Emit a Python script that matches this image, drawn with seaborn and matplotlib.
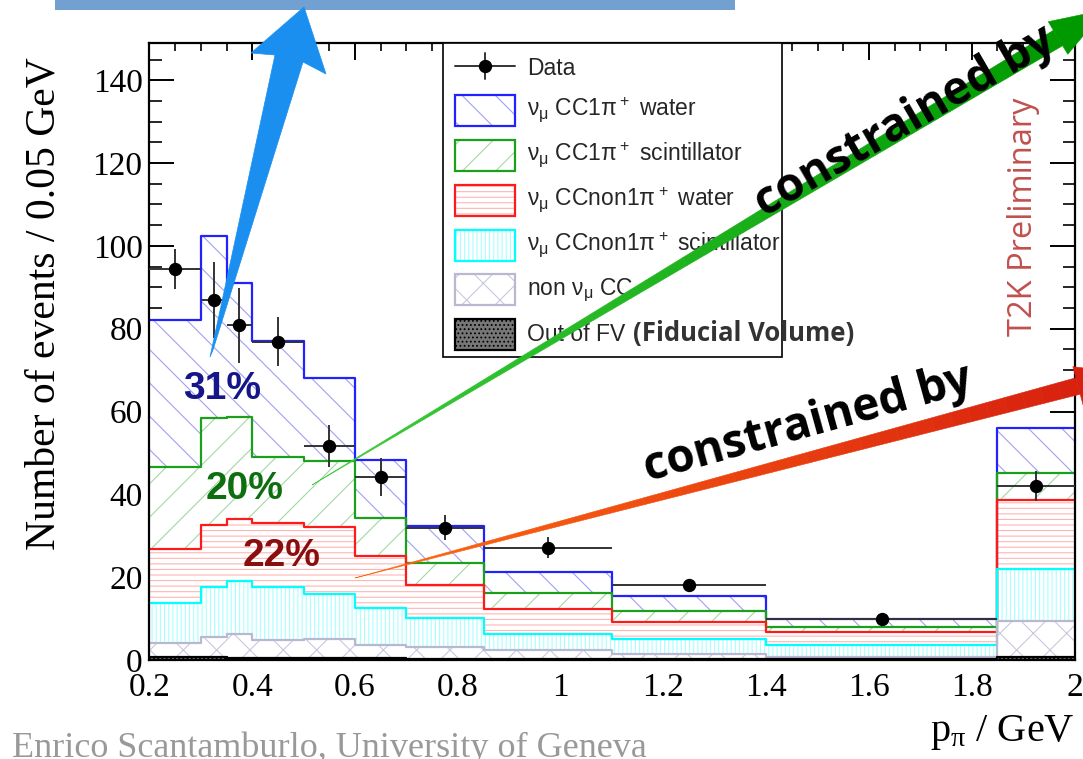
import numpy as np
import pandas as pd
import matplotlib
matplotlib.use("Agg")
import matplotlib.pyplot as plt
import matplotlib.colors as mcolors
from matplotlib.patches import Polygon, Rectangle
from matplotlib.lines import Line2D
from matplotlib.ticker import MultipleLocator, FuncFormatter
import seaborn as sns

W, H = 1083, 759

# binning (GeV) and values per bin, events / 0.05 GeV
bin_edges = [0.2, 0.3, 0.35, 0.4, 0.5, 0.6, 0.7, 0.85, 1.1, 1.4, 1.85, 2.0]
data_values = [94.5, 87.0, 80.8, 76.9, 51.7, 44.2, 31.9, 27.1, 18.1, 9.9, 42.1]
data_errors = [4.8, 9.2, 9.0, 6.0, 5.0, 4.7, 3.0, 2.5, 1.4, 1.2, 3.6]

out_of_fv = [0.8, 0.8, 0.6, 0.5, 0.4, 0.4, 0.3, 0.3, 0.2, 0.2, 0.8]
non_numu_cc = [3.3, 4.8, 5.7, 4.3, 4.7, 3.2, 2.8, 2.1, 1.3, 0.6, 8.6]
ccnon1pi_scint = [9.7, 12.1, 12.8, 12.9, 10.9, 9.0, 7.1, 3.9, 3.6, 2.8, 12.6]
ccnon1pi_water = [13.0, 14.9, 14.9, 15.3, 16.0, 12.4, 8.0, 6.0, 4.1, 3.2, 16.7]
cc1pi_scint = [19.9, 25.9, 24.8, 16.0, 16.0, 9.3, 5.3, 3.9, 2.6, 1.2, 6.5]
cc1pi_water = [35.5, 44.0, 32.2, 28.0, 20.0, 14.1, 8.9, 5.1, 3.7, 1.9, 10.8]

legend_labels = [
    r"$\mathregular{ν_μ}$ CC1$\mathregular{π^+}$ water",
    r"$\mathregular{ν_μ}$ CC1$\mathregular{π^+}$ scintillator",
    r"$\mathregular{ν_μ}$ CCnon1$\mathregular{π^+}$ water",
    r"$\mathregular{ν_μ}$ CCnon1$\mathregular{π^+}$ scintillator",
    r"non $\mathregular{ν_μ}$ CC",
    "Out of FV",
]
share_labels = ["31%", "20%", "22%"]

sns.set_theme(style="white")
plt.rcParams["font.family"] = ["Liberation Serif", "DejaVu Serif"]
plt.rcParams["hatch.linewidth"] = 0.8

edges = np.array(bin_edges)
centers = 0.5 * (edges[:-1] + edges[1:])
half_w = 0.5 * np.diff(edges)

# stack order bottom -> top
components = [out_of_fv, non_numu_cc, ccnon1pi_scint, ccnon1pi_water, cc1pi_scint, cc1pi_water]
tops = np.cumsum(np.array(components), axis=0)
# (outline colour, hatch colour, hatch, face)
styles = [
    ("black", "black", "....", "#777777"),
    ("#b8b8d0", "#c8c8e0", "x", "white"),
    ("#00ffff", "#a8ffff", "||||", "white"),
    ("#ff1a1a", "#ffb4b4", "---", "white"),
    ("#1aa01a", "#a4d8a4", "/", "white"),
    ("#2222ff", "#a0a0f4", "\\", "white"),
]

fig = plt.figure(figsize=(W / 100, H / 100), dpi=100)
ax = fig.add_axes([149.5 / W, 1 - 660 / H, 925 / W, 617 / H])


def F(x, y):
    return (x / W, 1 - y / H)


# draw from the top of the stack downwards so each opaque fill hides the one above
for i in range(len(components) - 1, -1, -1):
    line_c, hatch_c, hatch, face = styles[i]
    layer = pd.DataFrame({"p": centers, "n": tops[i]})
    sns.histplot(data=layer, x="p", weights="n", bins=bin_edges, element="step", fill=True,
                 facecolor=face, edgecolor=hatch_c, hatch=hatch, linewidth=0,
                 alpha=1, ax=ax)
    sns.histplot(data=layer, x="p", weights="n", bins=bin_edges, element="step", fill=False,
                 color=line_c, linewidth=1.6, ax=ax)

ax.errorbar(centers, data_values, xerr=half_w, yerr=data_errors, fmt="o",
            color="black", ecolor="#333333", elinewidth=1.4, capsize=0,
            markersize=8.6, zorder=6)

ax.set_xlim(0.2, 2.0)
ax.set_ylim(0, 149)
ax.xaxis.set_major_locator(MultipleLocator(0.2))
ax.xaxis.set_minor_locator(MultipleLocator(0.05))
ax.yaxis.set_major_locator(MultipleLocator(20))
ax.yaxis.set_minor_locator(MultipleLocator(5))
ax.xaxis.set_major_formatter(FuncFormatter(lambda v, p: f"{v:g}"))
ax.yaxis.set_major_formatter(FuncFormatter(lambda v, p: f"{v:g}"))
ax.tick_params(axis="y", which="major", direction="in", length=18, width=1.4,
               left=True, right=True, labelsize=24, pad=5, colors="black")
ax.tick_params(axis="y", which="minor", direction="in", length=9, width=1.4,
               left=True, right=True)
ax.tick_params(axis="x", which="major", direction="in", length=12, width=1.4,
               bottom=True, top=True, labelsize=24, pad=9, colors="black")
ax.tick_params(axis="x", which="minor", direction="in", length=6, width=1.4,
               bottom=True, top=True)
for s in ax.spines.values():
    s.set_color("black")
    s.set_linewidth(1.6)

ax.set_ylabel("Number of events / 0.05 GeV", fontsize=30, color="black")
ax.yaxis.set_label_coords(-0.114, 0.578)
ax.yaxis.label.set_va("center")
ax.set_xlabel(r"$\mathregular{p_π}$ / GeV", fontsize=29, color="black", ha="right")
ax.xaxis.set_label_coords(1.0, (660 - 733) / 617)
ax.xaxis.label.set_va("center")

# legend box
fig.add_artist(Rectangle(F(443, 357), (782 - 443) / W, (357 - 43) / H,
                         transform=fig.transFigure, fc="white", ec="black", lw=1.2, zorder=2))
rows = [66, 110.5, 155, 200, 245, 289.5, 334.5]
fig.add_artist(Line2D([455 / W, 515 / W], [F(0, 66)[1]] * 2, transform=fig.transFigure,
                      color="#333333", lw=1.4, zorder=3))
fig.add_artist(Line2D([485 / W] * 2, [F(0, 53)[1], F(0, 79)[1]], transform=fig.transFigure,
                      color="#333333", lw=1.4, zorder=3))
fig.add_artist(Line2D([485 / W], [F(0, 66)[1]], transform=fig.transFigure, marker="o",
                      color="black", markersize=8.6, zorder=3))
fig.text(*F(527, 75), "Data", fontsize=16.5, family="Liberation Sans", va="baseline", zorder=3)
for k, lab in enumerate(legend_labels):
    line_c, hatch_c, hatch, face = styles[len(styles) - 1 - k]
    yc = rows[k + 1]
    fig.add_artist(Rectangle(F(455, yc + 15.5), 60 / W, 31 / H, transform=fig.transFigure,
                             fc=face, ec=hatch_c, hatch=hatch, lw=0, zorder=3))
    fig.add_artist(Rectangle(F(455, yc + 15.5), 60 / W, 31 / H, transform=fig.transFigure,
                             fc="none", ec=line_c, lw=1.6, zorder=3))
    fig.text(*F(527, yc + 6), lab, fontsize=16.5, family="Liberation Sans",
             va="baseline", zorder=3)
fig.text(*F(633, rows[6] + 7), "(Fiducial Volume)", fontsize=18.5, family="Open Sans",
         weight="bold", color="#333333", va="baseline", zorder=3)


def blend(c0, c1, t):
    a = np.array(mcolors.to_rgb(c0))
    b = np.array(mcolors.to_rgb(c1))
    return tuple(a + (b - a) * t)


def tapered_arrow(tail, end, w_end, head_w, head_len, c0, c1, n=40):
    tail = np.array(tail, float)
    end = np.array(end, float)
    d = end - tail
    u = d / np.hypot(*d)
    nrm = np.array([-u[1], u[0]])
    for i in range(n):
        t0, t1 = i / n, (i + 1) / n
        p0, p1 = tail + d * t0, tail + d * t1
        quad = [p0 + nrm * w_end * t0, p1 + nrm * w_end * t1,
                p1 - nrm * w_end * t1, p0 - nrm * w_end * t0]
        col = blend(c0, c1, (t0 + t1) / 2)
        fig.add_artist(Polygon([F(*q) for q in quad], closed=True, transform=fig.transFigure,
                               fc=col, ec=col, lw=0.4, zorder=4))
    head = [end + nrm * head_w, end + u * head_len, end - nrm * head_w]
    fig.add_artist(Polygon([F(*q) for q in head], closed=True, transform=fig.transFigure,
                           fc=c1, ec=c1, lw=0.4, zorder=4))


# slide overlays
fig.add_artist(Rectangle(F(55, 10), (735 - 55) / W, 10 / H, transform=fig.transFigure,
                         fc="#72a0d0", ec="none", zorder=4))
blue_arrow = [(210, 357), (275, 55), (251, 53), (304, 7), (326, 74), (303, 62), (213, 350)]
fig.add_artist(Polygon([F(*p) for p in blue_arrow], closed=True, transform=fig.transFigure,
                       fc="#1b8ff0", ec="#1b8ff0", lw=0.5, zorder=4))
tapered_arrow((312, 485), (1058, 38), 9, 19, 55, "#3ccc3c", "#009a00")
tapered_arrow((355, 578), (1078, 386), 8.5, 20, 50, "#ff6a10", "#d8200f")

fig.text(*F(905, 122), "constrained by", fontsize=33, family="Open Sans", weight="bold",
         rotation=30, ha="center", va="center", rotation_mode="anchor", color="black", zorder=5)
fig.text(*F(808, 424), "constrained by", fontsize=33, family="Open Sans", weight="bold",
         rotation=15.5, ha="center", va="center", rotation_mode="anchor", color="black", zorder=5)

share_pos = [(222, 389), (245, 489), (282, 556)]
share_cols = ["#16168a", "#0f6e0f", "#8b0e0e"]
for lab, (px, py), c in zip(share_labels, share_pos, share_cols):
    fig.text(*F(px, py), lab, fontsize=28, family="Liberation Sans", weight="bold",
             color=c, ha="center", va="center", zorder=5)

fig.text(*F(1023, 217), "T2K Preliminary", fontsize=23.5, family="Open Sans",
         color="#c0504d", rotation=90, ha="center", va="center", zorder=5)
fig.text(*F(12, 757), "Enrico Scantamburlo, University of Geneva", fontsize=26,
         family="Liberation Serif", color="#999999", va="baseline", zorder=5)

fig.savefig("out.png", dpi=100)
